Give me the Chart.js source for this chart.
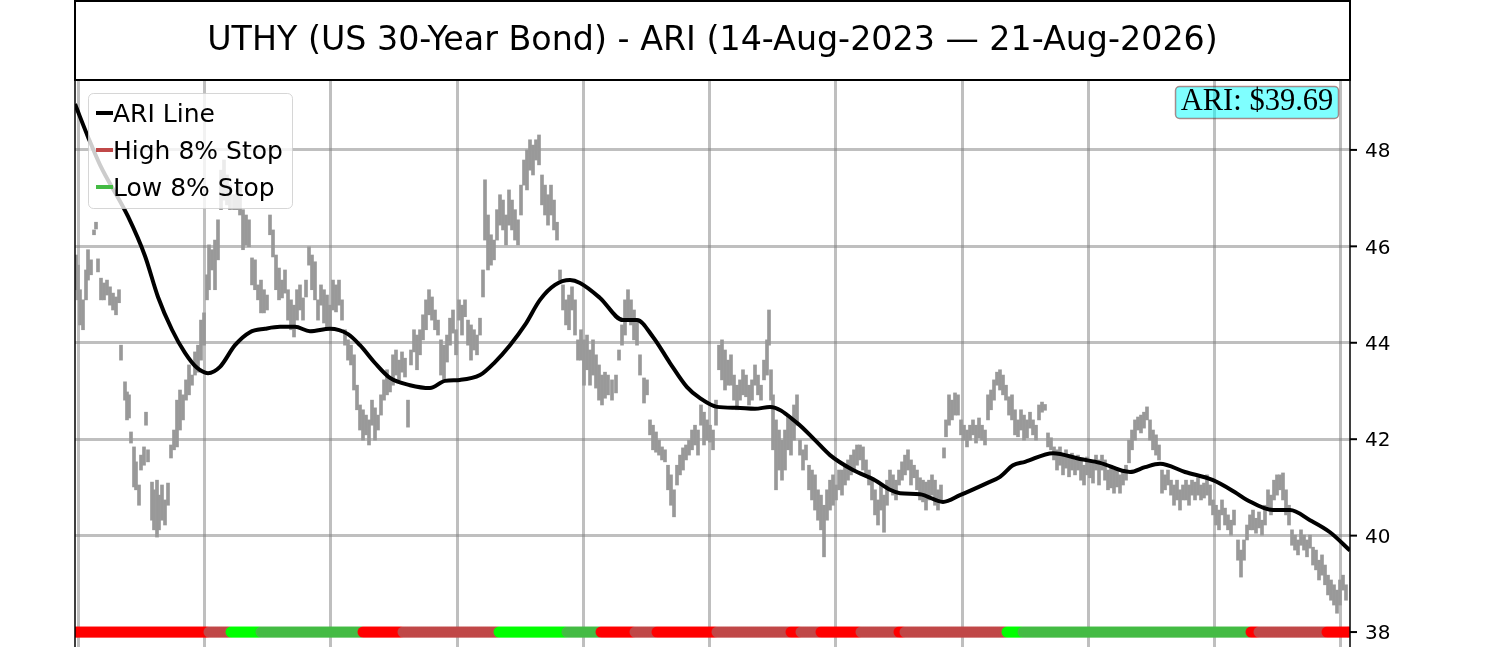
<!DOCTYPE html>
<html>
<head>
<meta charset="utf-8">
<title>UTHY - ARI</title>
<script src="https://cdn.jsdelivr.net/npm/chart.js@4.4.1/dist/chart.umd.min.js"></script>
<style>
  html, body { margin: 0; padding: 0; background: #fff; overflow: hidden; }
  canvas { display: block; }
</style>
</head>
<body>
<canvas id="c" width="1500" height="647"></canvas>
<script>
const TITLE = "UTHY (US 30-Year Bond) - ARI (14-Aug-2023 \u2014 21-Aug-2026)";
const ARI_LABEL = "ARI: $39.69";

// x axis is trading-day index; grid lines sit on these days
const xTickDays = [1.5, 64.5, 127.5, 191, 254, 317, 380.5, 443.5, 506.5, 569.5, 632.5];
const xRange = [0, 637.5];
const yTicks = [38, 40, 42, 44, 46, 48];
const yRange = [37.69, 49.45];

// smoothed ARI line
const ariDays = [0, 6.5, 12.5, 26.5, 35, 41.5, 48.5, 55, 61, 66.5,
  72.5, 80, 87.5, 95, 102.5, 110, 117.5, 127.5, 136.5, 142.5,
  150, 157.5, 167.5, 177.5, 185, 192.5, 202.5, 210, 217.5, 225,
  232.5, 240, 247.5, 252.5, 262.5, 274, 281, 289, 297.5, 306,
  312.5, 321, 331, 340, 347.5, 361, 370, 377.5, 389, 400,
  407.5, 412.5, 422.5, 434, 442.5, 456, 462.5, 469, 475, 489,
  502.5, 512.5, 527.5, 535, 542.5, 555, 569, 580, 586, 599,
  607.5, 617.5, 627.5, 637.5];
const ariValues = [48.95, 48.27, 47.69, 46.62, 45.80, 44.95, 44.27, 43.79, 43.48, 43.37,
  43.50, 43.95, 44.22, 44.29, 44.33, 44.33, 44.24, 44.29, 44.18, 43.95,
  43.58, 43.27, 43.12, 43.06, 43.21, 43.23, 43.33, 43.60, 43.95, 44.37,
  44.89, 45.20, 45.30, 45.24, 44.93, 44.47, 44.47, 44.12, 43.58, 43.08,
  42.85, 42.67, 42.65, 42.63, 42.67, 42.34, 41.98, 41.67, 41.36, 41.15,
  40.95, 40.88, 40.86, 40.70, 40.84, 41.09, 41.22, 41.46, 41.53, 41.71,
  41.59, 41.51, 41.32, 41.42, 41.49, 41.32, 41.15, 40.90, 40.74, 40.53,
  40.53, 40.32, 40.07, 39.69];

// daily high-low bars (day, [low, high]); one line of days per line of ranges
const barDays = [
  0.5, 1.5, 2.5, 4, 5.5, 6.5, 8, 9.5, 10.5, 11.5, 13, 14.5, 16, 17.5, 19, 20.5, 22,
  23, 25, 26, 27, 28, 29.5, 30.5, 32, 33, 34.5, 35.5, 36.5, 38.5, 39.5, 41, 42, 43.5, 45, 46.5, 48, 49.5, 51, 52.5, 54, 55.5, 57, 58.5, 60, 61.5, 63,
  64.5, 66, 67, 68.5, 70, 71.5, 73, 74.5, 76, 77.5, 79.5, 81, 82.5, 84, 85.5, 87, 88.5, 90, 91.5, 93, 94.5, 96,
  97.5, 99, 100.5, 102, 103.5, 105, 106.5, 108, 109.5, 111, 112.5, 114, 115.5, 117, 118.5, 120, 121.5, 123, 124.5, 126, 127.5, 129, 130.5, 132, 133.5, 135,
  136.5, 138, 139.5, 141, 142.5, 144, 145.5, 147, 148.5, 150, 151.5, 153, 154.5, 156, 157.5, 159, 160.5, 162, 163.5, 165, 166.5, 168, 169.5, 171, 172.5, 174, 175.5, 177, 178.5, 180, 181.5,
  183, 184.5, 186, 187.5, 189, 190.5, 192, 193.5, 195, 196.5, 198, 199.5, 201, 202.5, 204,
  205, 206.5, 208, 209.5, 211, 212.5, 214, 215.5, 217, 218.5, 220, 221.5, 223, 224.5, 226, 227.5, 229, 230.5, 232, 233.5, 235, 236.5, 238, 239.5, 241, 242.5,
  244, 245.5, 247, 248.5, 250, 251.5, 253, 254.5, 256, 257.5, 259, 260.5, 262, 263.5, 265, 266.5, 268.5, 270.5, 272, 273.5, 275, 276.5, 278, 279.5, 281, 282.5, 284.5, 286,
  287.5, 289, 290.5, 292, 293.5, 295, 296.5, 298, 299.5, 301, 302.5, 304, 305.5, 307, 308.5, 310, 311.5, 313, 314.5, 316, 317.5, 319, 320.5,
  322, 323.5, 325, 326.5, 328, 329.5, 331, 332.5, 334, 335.5, 337, 338.5, 340, 341.5, 343, 344.5, 346, 347, 348, 349, 350.5, 352, 353.5, 355, 356.5, 358, 359.5, 361, 362.5,
  364, 365.5, 367, 368.5, 370, 371.5, 373, 374.5, 376, 377.5, 379, 380.5, 382, 383.5, 385, 386.5, 388, 389.5, 391, 392.5, 394, 395.5, 397, 398.5, 400, 401.5, 403, 404.5, 406, 407.5, 409, 410.5, 412, 413.5, 415, 416.5, 418, 419.5, 421, 422.5, 424, 425.5, 427, 428.5, 430, 431.5, 433,
  434.5, 435.5, 437, 438.5, 440, 441.5, 443, 444.5, 446, 447.5, 449, 450.5, 452, 453.5, 455, 456.5, 458, 459.5, 461, 462.5, 464, 465.5, 467, 468.5, 470, 471.5, 473, 474.5, 476, 477.5, 479, 480.5, 482, 483.5, 485,
  486.5, 488, 489.5, 491, 492.5, 494, 495.5, 497, 498.5, 500, 501.5, 503, 504.5, 506, 507.5, 509, 510.5, 512, 513.5, 515, 516.5, 518, 519.5, 521, 522.5, 524, 525.5, 527, 528.5, 530, 531.5, 533, 534.5, 536, 537.5, 539, 540.5, 542,
  543.5, 545, 546.5, 548, 549.5, 551, 552.5, 554, 555.5, 557, 558.5, 560, 561.5, 563, 564.5, 566, 567.5, 569, 570.5, 572, 573.5, 575, 576.5, 578, 579.5,
  581.5, 583, 584.5, 586, 587.5, 589, 590.5, 592, 593.5, 595, 596.5, 598, 599.5, 601, 602.5, 604, 605.5, 607, 608.5, 610, 611.5, 613, 614.5, 616, 617.5, 619, 620.5, 622, 623.5, 625, 626.5, 628, 629.5, 631, 632.5, 634, 635.5
];
const barRanges = [
  [45.10,45.82],[44.89,45.61],[44.37,45.10],[44.27,44.89],[44.89,45.51],[45.30,45.93],[45.41,45.72],[46.24,46.34],[46.36,46.50],[45.47,45.74],[44.89,45.34],[44.89,45.24],[44.99,45.30],[44.78,45.16],[44.68,45.03],[44.58,44.95],[44.83,45.10],
  [43.64,43.95],[42.81,43.19],[42.40,42.98],[42.44,42.92],[41.92,42.15],[41.01,41.84],[40.95,41.53],[40.63,41.05],[41.36,41.67],[41.46,41.84],[42.29,42.56],[41.53,41.78],[40.32,41.11],[40.12,40.95],[39.97,41.15],[40.12,40.84],[40.32,41.05],[40.22,40.74],[40.63,41.09],[41.61,41.88],[41.78,42.19],[41.84,42.81],[42.19,43.02],[42.40,42.92],[42.81,43.23],[42.92,43.54],[43.12,43.33],[43.33,43.81],[43.39,43.95],[43.64,44.47],
  [43.95,44.62],[44.89,45.41],[45.10,46.03],[45.51,45.93],[45.10,46.13],[45.72,46.55],[46.76,47.58],[46.96,47.79],[46.86,47.48],[46.76,47.27],[46.76,47.07],[46.76,47.17],[46.65,47.27],[45.93,46.76],[46.03,46.65],[45.99,46.55],[45.20,45.76],[45.10,45.72],[44.89,45.20],[44.62,45.30],[44.62,45.10],[44.68,44.99],
  [46.24,46.65],[45.78,46.34],[45.10,45.82],[44.89,45.55],[44.93,45.30],[45.03,45.51],[44.47,45.10],[44.27,44.89],[44.12,44.78],[44.47,45.10],[44.68,45.20],[44.47,44.93],[44.95,45.30],[45.61,45.99],[45.10,45.82],[44.89,45.68],[44.47,44.89],[44.78,45.20],[44.41,45.10],[44.27,44.99],[44.27,44.78],[44.68,45.30],[44.64,45.20],[44.78,45.30],[44.47,44.89],[43.95,44.27],
  [43.64,44.06],[43.54,43.95],[43.02,43.75],[42.61,43.12],[42.19,42.71],[41.98,42.61],[42.09,42.50],[41.88,42.40],[42.29,42.81],[41.98,42.65],[42.19,42.50],[42.50,42.92],[42.81,43.23],[42.92,43.44],[42.98,43.27],[43.12,43.75],[43.33,43.85],[43.23,43.64],[43.39,43.81],[43.29,43.68],[42.25,42.81],[43.54,43.85],[43.81,44.27],[43.44,44.16],[43.75,44.27],[44.06,44.58],[44.27,44.89],[44.58,45.10],[44.47,44.95],[44.27,44.68],[44.16,44.47],
  [43.33,44.06],[43.23,43.95],[43.60,44.16],[43.95,44.51],[44.20,44.68],[43.75,44.27],[44.47,44.89],[44.16,44.78],[44.54,44.89],[43.95,44.47],[43.64,44.37],[43.85,44.27],[43.75,44.16],[44.16,44.51],[44.95,45.51],
  [46.13,47.38],[45.51,46.65],[45.61,46.24],[45.72,46.13],[46.13,46.76],[46.44,47.07],[46.34,46.96],[46.03,46.65],[46.44,47.17],[46.34,46.96],[46.13,46.76],[46.03,46.55],[46.65,47.27],[47.27,47.79],[47.17,48.00],[47.58,48.21],[47.48,48.10],[47.79,48.21],[47.69,48.31],[46.86,47.48],[46.65,47.27],[46.44,47.07],[46.65,47.27],[46.34,46.96],[46.13,46.50],[45.30,45.51],
  [44.68,45.20],[44.37,44.89],[44.27,44.99],[44.68,45.16],[44.16,44.89],[43.64,44.06],[43.64,44.27],[43.12,44.06],[43.44,44.16],[43.12,43.85],[43.33,44.06],[43.06,43.75],[42.81,43.54],[42.71,43.33],[42.85,43.39],[42.92,43.33],[42.81,43.23],[42.96,43.33],[43.64,43.85],[43.95,44.37],[44.16,44.89],[44.47,45.10],[44.37,44.89],[44.06,44.68],[43.95,44.47],[43.33,43.75],[42.75,43.27],[42.92,43.23],
  [42.09,42.40],[41.78,42.29],[41.73,42.15],[41.67,41.98],[41.57,41.84],[41.53,41.78],[40.95,41.46],[40.63,41.26],[40.39,40.95],[41.05,41.46],[41.26,41.67],[41.36,41.82],[41.57,41.88],[41.67,41.98],[41.78,42.19],[41.88,42.29],[41.67,42.19],[42.29,42.71],[41.88,42.56],[41.98,42.40],[41.94,42.29],[41.78,42.19],[42.29,42.81],
  [43.44,43.95],[43.23,44.06],[43.02,43.85],[43.12,43.64],[43.12,43.75],[42.81,43.33],[42.61,43.12],[42.81,43.23],[42.92,43.44],[42.88,43.33],[42.71,43.12],[42.81,43.23],[43.12,43.54],[42.92,43.33],[42.81,43.12],[43.23,43.64],[43.33,44.06],[43.95,44.68],[42.81,43.44],[41.78,42.92],[40.95,42.40],[41.36,42.19],[41.15,41.98],[41.36,42.19],[41.78,42.50],[41.67,42.40],[41.98,42.71],[42.29,42.92],[41.67,41.98],
  [41.36,41.78],[41.57,41.88],[40.95,41.46],[40.74,41.36],[40.53,41.26],[40.32,40.95],[40.12,40.84],[39.56,40.63],[40.32,40.95],[40.53,41.15],[40.63,41.26],[40.74,41.05],[40.95,41.36],[40.84,41.36],[41.05,41.46],[41.15,41.57],[41.26,41.67],[41.36,41.78],[41.46,41.88],[41.57,41.88],[41.36,41.84],[41.22,41.57],[41.05,41.36],[40.74,41.15],[40.43,40.95],[40.22,40.74],[40.53,41.05],[40.07,40.84],[40.63,41.15],[40.95,41.36],[40.84,41.26],[40.74,41.15],[41.05,41.36],[41.15,41.53],[41.26,41.67],[41.36,41.78],[41.05,41.57],[41.20,41.46],[40.95,41.36],[40.74,41.20],[40.70,41.15],[40.53,41.11],[40.74,41.15],[40.84,41.26],[40.63,41.15],[40.53,40.95],[40.74,41.05],
  [41.61,41.82],[42.05,42.40],[42.29,42.92],[42.40,42.81],[42.50,42.96],[42.50,42.92],[42.09,42.40],[41.98,42.29],[41.84,42.19],[41.98,42.29],[42.09,42.40],[41.92,42.29],[42.03,42.44],[41.98,42.29],[41.88,42.19],[42.40,42.92],[42.61,43.02],[42.81,43.23],[43.12,43.39],[43.02,43.44],[42.92,43.33],[42.81,43.12],[42.50,42.88],[42.40,42.92],[42.09,42.61],[42.05,42.40],[42.19,42.61],[41.98,42.50],[42.03,42.40],[42.23,42.56],[42.09,42.40],[41.98,42.29],[42.40,42.71],[42.56,42.77],[42.60,42.72],
  [41.84,42.13],[41.78,42.03],[41.57,41.84],[41.36,41.78],[41.46,41.84],[41.26,41.67],[41.40,41.78],[41.22,41.67],[41.36,41.71],[41.26,41.57],[41.36,41.67],[41.15,41.57],[41.05,41.46],[41.26,41.63],[41.20,41.57],[41.09,41.53],[41.36,41.67],[41.05,41.57],[41.36,41.67],[41.15,41.57],[40.95,41.36],[40.99,41.46],[40.88,41.36],[41.01,41.36],[40.88,41.26],[41.05,41.36],[41.15,41.46],[41.51,41.98],[41.78,42.19],[41.98,42.40],[42.19,42.46],[42.13,42.50],[42.23,42.56],[42.40,42.67],[41.98,42.40],[41.78,42.19],[41.67,42.09],[41.57,41.88],
  [40.88,41.36],[40.95,41.26],[41.05,41.36],[40.84,41.15],[40.63,41.05],[40.74,41.15],[40.53,40.95],[40.74,41.05],[40.74,41.15],[40.63,41.05],[40.84,41.15],[40.74,41.11],[40.84,41.20],[40.74,41.05],[40.78,41.09],[40.84,41.26],[40.63,41.05],[40.43,40.74],[40.22,40.63],[40.12,40.53],[40.43,40.74],[40.22,40.57],[40.12,40.43],[40.01,40.32],[40.22,40.53],
  [39.49,39.91],[39.14,39.70],[39.49,39.91],[39.91,40.22],[40.12,40.43],[40.12,40.53],[40.05,40.36],[40.16,40.49],[40.01,40.32],[40.22,40.63],[40.53,40.95],[40.43,40.84],[40.74,41.15],[40.84,41.26],[40.95,41.26],[40.74,41.30],[40.43,40.95],[40.22,40.63],[39.80,40.12],[39.70,40.01],[39.60,39.91],[39.80,40.12],[39.70,40.01],[39.56,39.91],[39.74,40.01],[39.39,39.76],[39.29,39.70],[39.08,39.49],[39.18,39.60],[38.98,39.39],[38.77,39.18],[38.66,39.08],[38.56,38.98],[38.39,38.87],[38.56,39.08],[38.87,39.18],[38.66,38.98]
];

// stop-state strip along the bottom: run start days and state of each run
const stripLevel = 38;
const stripLastDay = 637;
const stripStarts = [0, 67, 78, 93, 144, 164, 212, 246, 263, 280, 291, 321, 358, 363, 373, 393, 412, 415, 466, 474, 588, 592, 626];
const stripKinds = ["R", "H", "G", "L", "R", "H", "G", "L", "R", "H", "R", "H", "R", "H", "R", "H", "R", "H", "G", "L", "R", "H", "R"];

const legendLabels = ["ARI Line", "High 8% Stop", "Low 8% Stop"];

const COLORS = {
  ari: "#000000",
  bar: "#999999",
  grid: "rgba(128,128,128,0.5)",
  R: "#ff0000",
  H: "#c04848",
  G: "#00ff00",
  L: "#44bb44"
};
const legendColors = [COLORS.ari, COLORS.H, COLORS.L];

if (barDays.length !== barRanges.length) console.error("bar arrays differ", barDays.length, barRanges.length);

const ariData = ariDays.map((d, i) => ({ x: d, y: ariValues[i] }));
const barData = barDays.map((d, i) => ({ x: d, y: barRanges[i] }));

const stripData = [];
const stripColors = [];
for (let d = 0; d <= stripLastDay; d++) {
  let k = 0;
  while (k + 1 < stripStarts.length && stripStarts[k + 1] <= d) k++;
  stripData.push({ x: d, y: stripLevel });
  stripColors.push(COLORS[stripKinds[k]]);
}

function roundRectPath(ctx, x, y, w, h, r) {
  ctx.beginPath();
  ctx.moveTo(x + r, y);
  ctx.lineTo(x + w - r, y);
  ctx.arcTo(x + w, y, x + w, y + r, r);
  ctx.lineTo(x + w, y + h - r);
  ctx.arcTo(x + w, y + h, x + w - r, y + h, r);
  ctx.lineTo(x + r, y + h);
  ctx.arcTo(x, y + h, x, y + h - r, r);
  ctx.lineTo(x, y + r);
  ctx.arcTo(x, y, x + r, y, r);
  ctx.closePath();
}

const overlayPlugin = {
  id: "overlay",
  afterDraw(chart) {
    const ctx = chart.ctx;
    const a = chart.chartArea;
    const yScale = chart.scales.y;
    ctx.save();

    // legend box
    roundRectPath(ctx, 88.5, 93.5, 204, 115, 5);
    ctx.fillStyle = "rgba(255,255,255,0.8)";
    ctx.fill();
    ctx.strokeStyle = "rgba(204,204,204,0.8)";
    ctx.lineWidth = 1;
    ctx.stroke();
    ctx.font = '25px "DejaVu Sans"';
    ctx.textAlign = "left";
    ctx.textBaseline = "alphabetic";
    legendLabels.forEach((label, i) => {
      const y = 113 + i * 37;
      ctx.strokeStyle = legendColors[i];
      ctx.lineWidth = 4;
      ctx.beginPath();
      ctx.moveTo(96, y);
      ctx.lineTo(113, y);
      ctx.stroke();
      ctx.fillStyle = "#000";
      ctx.fillText(label, 113, y + 9);
    });

    // latest ARI value
    roundRectPath(ctx, 1175.5, 86.5, 163, 32, 4);
    ctx.fillStyle = "rgba(0,255,255,0.5)";
    ctx.fill();
    ctx.strokeStyle = "rgba(128,0,0,0.45)";
    ctx.lineWidth = 1.5;
    ctx.stroke();
    ctx.fillStyle = "#000";
    ctx.font = '30.5px "Liberation Serif"';
    ctx.textAlign = "center";
    ctx.fillText(ARI_LABEL, 1257, 110);

    // spines
    ctx.strokeStyle = "#000";
    ctx.lineWidth = 1.5;
    ctx.beginPath();
    ctx.moveTo(a.left, a.top);
    ctx.lineTo(a.left, a.bottom);
    ctx.moveTo(a.right, a.top);
    ctx.lineTo(a.right, a.bottom);
    ctx.stroke();

    // right-hand y ticks and labels
    ctx.font = '20px "DejaVu Sans"';
    ctx.textAlign = "left";
    ctx.lineWidth = 2;
    yTicks.forEach(v => {
      const py = yScale.getPixelForValue(v);
      ctx.beginPath();
      ctx.moveTo(a.right, py);
      ctx.lineTo(a.right + 7, py);
      ctx.stroke();
      ctx.fillText(String(v), a.right + 15, py + 7.3);
    });

    // title box
    ctx.lineWidth = 2;
    ctx.strokeRect(a.left, 1, a.right - a.left, a.top - 1);
    ctx.font = '33.3px "DejaVu Sans"';
    ctx.textAlign = "center";
    ctx.fillText(TITLE, (a.left + a.right) / 2, 50);
    ctx.restore();
  }
};

new Chart(document.getElementById("c"), {
  type: "line",
  data: {
    datasets: [
      {
        type: "line",
        label: "ARI Line",
        data: ariData,
        borderColor: COLORS.ari,
        borderWidth: 4,
        pointRadius: 0,
        cubicInterpolationMode: "monotone",
        fill: false,
        order: 0
      },
      {
        type: "line",
        label: "Stops",
        data: stripData,
        showLine: false,
        pointRadius: 5.5,
        pointBorderWidth: 0,
        pointBackgroundColor: stripColors,
        pointBorderColor: stripColors,
        clip: 0,
        order: 1
      },
      {
        type: "bar",
        label: "Price",
        data: barData,
        backgroundColor: COLORS.bar,
        borderWidth: 0,
        barThickness: 3,
        grouped: false,
        clip: 0,
        order: 2
      }
    ]
  },
  options: {
    responsive: false,
    animation: false,
    devicePixelRatio: 1,
    events: [],
    layout: { autoPadding: false, padding: { left: 75, top: 80, right: 0, bottom: 0 } },
    plugins: { legend: { display: false }, tooltip: { enabled: false }, title: { display: false } },
    scales: {
      x: {
        type: "linear",
        min: xRange[0],
        max: xRange[1],
        offset: false,
        afterBuildTicks: s => { s.ticks = xTickDays.map(v => ({ value: v })); },
        afterFit: s => { s.height = 0; },
        ticks: { display: false },
        grid: { color: COLORS.grid, lineWidth: 3, drawTicks: false, offset: false },
        border: { display: false }
      },
      y: {
        type: "linear",
        position: "right",
        min: yRange[0],
        max: yRange[1],
        afterBuildTicks: s => { s.ticks = yTicks.map(v => ({ value: v })); },
        afterFit: s => { s.width = 150; s.paddingTop = 0; s.paddingBottom = 0; },
        ticks: { display: false },
        grid: { color: COLORS.grid, lineWidth: 3, drawTicks: false },
        border: { display: false }
      }
    }
  },
  plugins: [overlayPlugin]
});
</script>
</body>
</html>
